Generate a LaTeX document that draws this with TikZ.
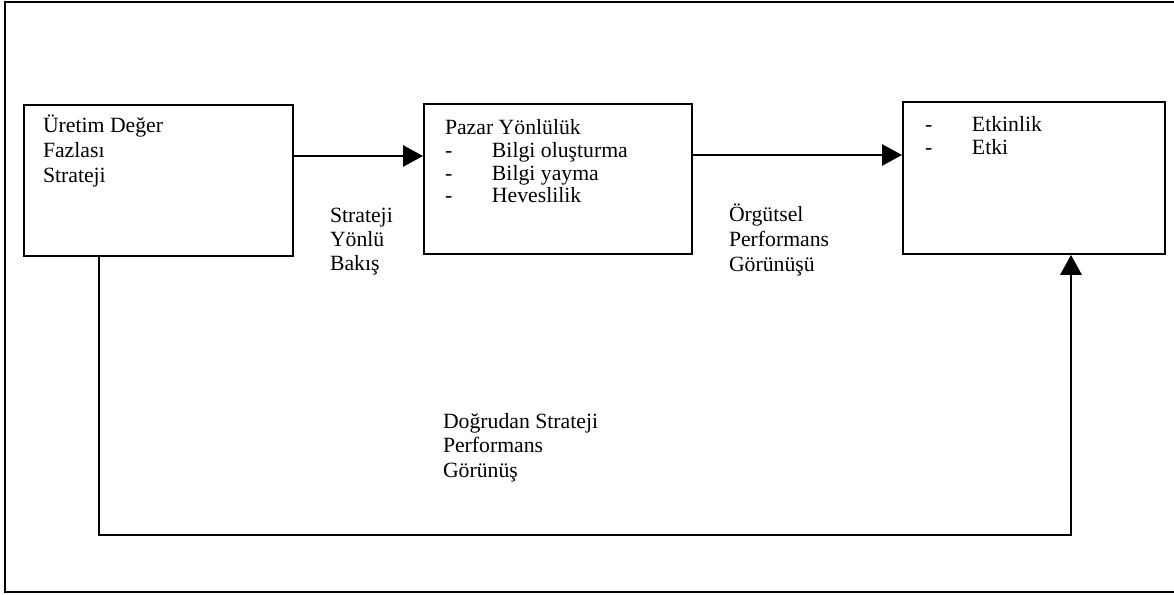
\documentclass[tikz,border=0pt]{standalone}
\usepackage{fontspec}
\setmainfont{Liberation Serif}
\usetikzlibrary{arrows.meta,calc}
\newcommand{\lsz}[1]{\fontsize{16.3pt}{#1}\selectfont}
\newcommand{\dsh}{\makebox[35.25pt][l]{-}}
\begin{document}
\begin{tikzpicture}[x=0.75pt,y=-0.75pt,
  box/.style={draw,line width=1.4pt,minimum width=#1*0.75pt,inner sep=0pt,anchor=north west},
  txt/.style={anchor=base west,inner sep=0pt,outer sep=0pt},
  conn/.style={line width=1.4pt},
  arr/.style={conn,-{Triangle[length=15pt,width=16pt]}},
  frame/.style={line width=1.1pt}]
\useasboundingbox (0,0) rectangle (1174,595);
% outer frame (right edge falls outside the picture)
\coordinate (f1) at (1174,2);
\coordinate (f2) at (5,2);
\coordinate (f3) at (5,592);
\coordinate (f4) at (1174,592);
\draw[frame] (f1) -- (f2) -- (f3) -- (f4);
% boxes
\node[box=269,minimum height=151*0.75pt] (b1) at (23,104) {};
\node[box=268,minimum height=150*0.75pt] (b2) at (423,103) {};
\node[box=262,minimum height=152*0.75pt] (b3) at (902,101) {};
% box texts
\node[txt] (t1) at (43,133) {\lsz{18.75pt}\begin{tabular}[t]{@{}l@{}}Üretim Değer\\Fazlası\\Strateji\end{tabular}};
\node[txt] (t2) at (445,135) {\lsz{16.9pt}\begin{tabular}[t]{@{}l@{}}Pazar Yönlülük\\\dsh Bilgi oluşturma\\\dsh Bilgi yayma\\\dsh Heveslilik\end{tabular}};
\node[txt] (t3) at (925,132) {\lsz{17.25pt}\begin{tabular}[t]{@{}l@{}}\dsh Etkinlik\\\dsh Etki\end{tabular}};
% labels
\node[txt] (l1) at (330,223) {\lsz{18pt}\begin{tabular}[t]{@{}l@{}}Strateji\\Yönlü\\Bakış\end{tabular}};
\node[txt] (l2) at (729,222) {\lsz{18.6pt}\begin{tabular}[t]{@{}l@{}}Örgütsel\\Performans\\Görünüşü\end{tabular}};
\node[txt] (l3) at (443,428) {\lsz{18.4pt}\begin{tabular}[t]{@{}l@{}}Doğrudan Strateji\\Performans\\Görünüş\end{tabular}};
% connectors
\draw[arr] (b1.east |- 0,156) -- (b2.west |- 0,156);
\draw[arr] (b2.east |- 0,155) -- (b3.west |- 0,155);
\coordinate (c1) at (99,535);
\coordinate (c2) at (1071,535);
\draw[arr] (b1.south -| c1) -- (c1) -- (c2) -- (b3.south -| c2);
\end{tikzpicture}
\end{document}
